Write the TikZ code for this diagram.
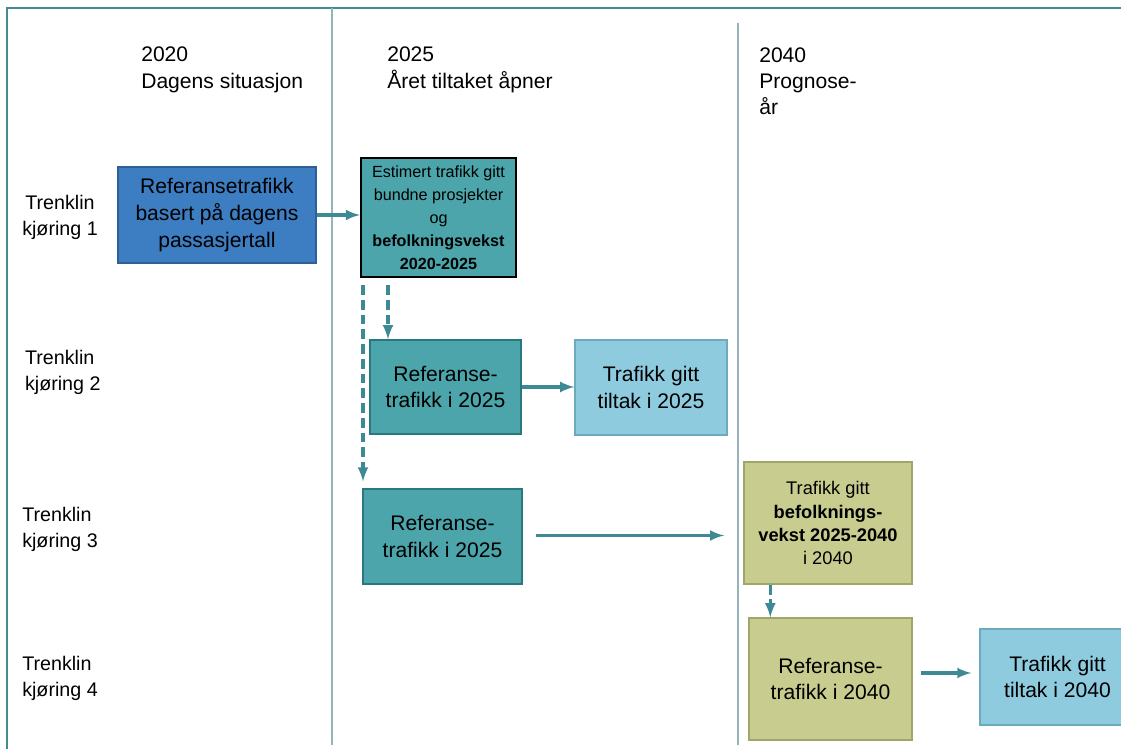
\documentclass[tikz,border=0pt]{standalone}
\usepackage{fontspec}
\setmainfont{Liberation Sans}
\usetikzlibrary{positioning}

\definecolor{refblue}{RGB}{61,125,193}
\definecolor{refblueline}{RGB}{47,95,150}
\definecolor{refteal}{RGB}{75,165,171}
\definecolor{reftealline}{RGB}{40,120,128}
\definecolor{reflight}{RGB}{142,203,223}
\definecolor{reflightline}{RGB}{110,170,190}
\definecolor{refolive}{RGB}{200,205,143}
\definecolor{refoliveline}{RGB}{160,165,105}
\definecolor{arrowteal}{RGB}{62,138,148}
\definecolor{frameteal}{RGB}{63,140,146}
\definecolor{divgray}{RGB}{148,180,186}

\begin{document}
\begin{tikzpicture}[
		box/.style={draw, line width=1pt, align=center, inner sep=2pt,
			font=\fontsize{15}{19}\selectfont},
		runlabel/.style={anchor=west, align=left, inner sep=0pt,
			font=\fontsize{14}{18.5}\selectfont},
		yearlabel/.style={anchor=north west, align=left, inner sep=0pt,
			font=\fontsize{15}{18.5}\selectfont},
		arr/.style={line width=2.4pt, arrowteal, -latex},
		dasharr/.style={arr, dash pattern=on 7pt off 3.5pt}
	]
		\useasboundingbox (0,0) rectangle (28.025,18.725);
		
		% ramme og skillelinjer
		\draw[frameteal, line width=1.6pt] (0.175,0) -- (0.175,18.525) -- (28.025,18.525);
		\draw[divgray, line width=1pt] (8.3,18.525) -- (8.3,0.1);
		\draw[divgray, line width=1pt] (18.45,18.15) -- (18.45,0.1);
		
		% aar
		\node[yearlabel] (y2020) at (3.525,17.55) {2020\\Dagens situasjon};
		\node[yearlabel] (y2025) at (9.675,17.55) {2025\\Året tiltaket åpner};
		\node[yearlabel] (y2040) at (18.975,17.55) {2040\\Prognose-\\år};
		
		% kjoringer
		\node[runlabel, align=center] (run1) at (0.55,13.3) {Trenklin\\kjøring 1};
		\node[runlabel] (run2) at (0.62,9.42) {Trenklin\\kjøring 2};
		\node[runlabel] (run3) at (0.55,5.5) {Trenklin\\kjøring 3};
		\node[runlabel] (run4) at (0.55,1.77) {Trenklin\\kjøring 4};
		
		% kjoring 1
		\node[box, fill=refblue, draw=refblueline, minimum width=4.95cm, minimum height=2.4cm]
			(ref2020) at (5.425,13.35) {Referansetrafikk\\basert på dagens\\passasjertall};
		\node[box, fill=refteal, draw=black, line width=1.6pt, minimum width=3.875cm, minimum height=2.975cm,
			font=\fontsize{11.5}{16.4}\selectfont]
			(est2025) at (10.9625,13.2875) {Estimert trafikk gitt\\bundne prosjekter\\og\\\textbf{befolkningsvekst}\\\textbf{2020-2025}};
		
		% kjoring 2
		\node[box, fill=refteal, draw=reftealline, minimum width=3.775cm, minimum height=2.35cm]
			(refA2025) at (11.1375,9.05) {Referanse-\\trafikk i 2025};
		\node[box, fill=reflight, draw=reflightline, minimum width=3.8cm, minimum height=2.375cm]
			(tilt2025) at (16.275,9.0375) {Trafikk gitt\\tiltak i 2025};
		
		% kjoring 3
		\node[box, fill=refteal, draw=reftealline, minimum width=3.975cm, minimum height=2.375cm]
			(refB2025) at (11.0625,5.3125) {Referanse-\\trafikk i 2025};
		\node[box, fill=refolive, draw=refoliveline, minimum width=4.2cm, minimum height=3.05cm,
			font=\fontsize{13}{16.4}\selectfont]
			(bef2040) at (20.7,5.65) {Trafikk gitt\\\textbf{befolknings-}\\\textbf{vekst 2025-2040}\\i 2040};
		
		% kjoring 4
		\node[box, fill=refolive, draw=refoliveline, minimum width=4.075cm, minimum height=3.05cm]
			(ref2040) at (20.7625,1.75) {Referanse-\\trafikk i 2040};
		\node[box, fill=reflight, draw=reflightline, minimum width=3.875cm, minimum height=2.4cm]
			(tilt2040) at (26.4375,1.8) {Trafikk gitt\\tiltak i 2040};
		
		% startpunkt for stiplede piler
		\coordinate (dashA) at (9.7,11.6);
		\coordinate (dashB) at (9.075,11.6);
		
		% piler
		\draw[arr] (ref2020.east) -- (ref2020.east -| est2025.west);
		\draw[arr] (refA2025.east) -- (refA2025.east -| tilt2025.west);
		\draw[arr, shorten <=0.33cm, shorten >=0.48cm] ([yshift=0.025cm]refB2025.east) -- ([yshift=0.025cm]refB2025.east -| bef2040.west);
		\draw[arr, shorten <=0.2cm, shorten >=0.2cm] ([yshift=0.15cm]ref2040.east) -- ([yshift=0.15cm]ref2040.east -| tilt2040.west);
		
		% stiplede piler
		\draw[dasharr] (dashA) -- (dashA |- refA2025.north);
		\draw[dasharr] (dashB) -- ([yshift=0.17cm]dashB |- refB2025.north);
		\draw[dasharr] ([xshift=0.675cm]bef2040.south west) -- ([xshift=0.675cm]bef2040.south west |- ref2040.north);
\end{tikzpicture}
\end{document}
